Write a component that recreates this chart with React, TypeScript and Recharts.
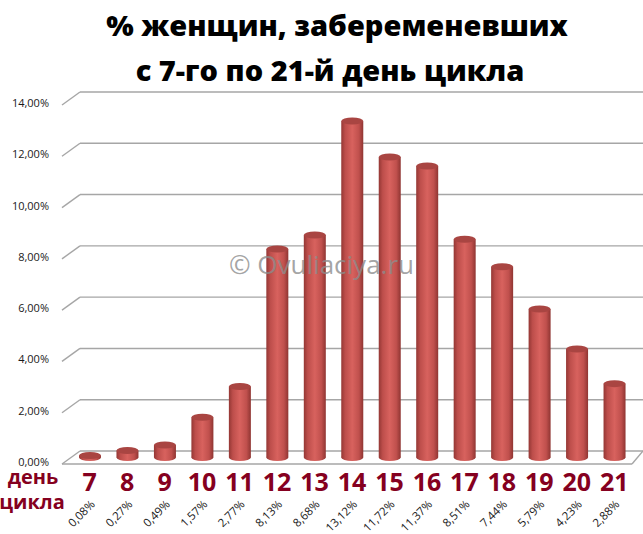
import { BarChart, Bar, XAxis, YAxis, CartesianGrid } from 'recharts';

const days = [7, 8, 9, 10, 11, 12, 13, 14, 15, 16, 17, 18, 19, 20, 21];
const percents = [0.08, 0.27, 0.49, 1.57, 2.77, 8.13, 8.68, 13.12, 11.72, 11.37, 8.51, 7.44, 5.79, 4.23, 2.88];
const yTicks = [0, 2, 4, 6, 8, 10, 12, 14];

const data = days.map((day, i) => ({ day, value: percents[i] }));

const fmt = (v: number) => v.toFixed(2).replace('.', ',') + '%';

const RISE = 13;
const SHIFT = 6.5;
const MAROON = '#850020';

function GridLine(props: any) {
  const { x1, x2, y1 } = props;
  const isFloor = Math.abs(y1 - 451) < 1;
  return (
    <g stroke="#a6a6a6" strokeWidth={1.4} fill="none">
      <line x1={x1 + 9} x2={x2 + 10} y1={y1} y2={y1} />
      <line x1={x1 - 9} y1={y1 + RISE} x2={x1 + 9} y2={y1} />
      {isFloor && (
        <>
          <line x1={x1 - 9} x2={x2 - 1} y1={y1 + RISE} y2={y1 + RISE} />
          <line x1={x2 - 1} y1={y1 + RISE} x2={x2 + 10} y2={y1} />
        </>
      )}
    </g>
  );
}

function Cylinder(props: any) {
  const { x, y, width, height } = props;
  const top = y + SHIFT;
  const bottom = y + height + SHIFT;
  const cx = x + width / 2;
  const rx = width / 2;
  const ry = 3.5;
  return (
    <g>
      <ellipse cx={cx} cy={bottom} rx={rx} ry={ry} fill="url(#cyl)" />
      <rect x={x} y={top} width={width} height={Math.max(bottom - top, 0)} fill="url(#cyl)" />
      <ellipse cx={cx} cy={top} rx={rx} ry={ry} fill="#a94542" />
    </g>
  );
}

function DayTick(props: any) {
  const { x, y, payload, index } = props;
  return (
    <g>
      <text
        x={x}
        y={y + 32}
        textAnchor="middle"
        fill={MAROON}
        fontFamily="'Open Sans', sans-serif"
        fontWeight={700}
        fontSize={25}
      >
        {payload.value}
      </text>
      <text
        x={x + 6}
        y={y + 46}
        textAnchor="end"
        fill="#1a1a1a"
        fontFamily="'Open Sans', sans-serif"
        fontSize={11.5}
        transform={`rotate(-45 ${x + 6} ${y + 46})`}
      >
        {fmt(percents[index])}
      </text>
    </g>
  );
}

function PctTick(props: any) {
  const { y, payload } = props;
  return (
    <text
      x={49}
      y={y + RISE + 2}
      textAnchor="end"
      fill="#1a1a1a"
      fontFamily="'Open Sans', sans-serif"
      fontSize={11}
    >
      {fmt(payload.value)}
    </text>
  );
}

export default function App() {
  return (
    <div style={{ width: 643, height: 534, position: 'relative', background: '#fff' }}>
      <style>{'body{margin:0}'}</style>
      <BarChart
        width={643}
        height={534}
        data={data}
        margin={{ top: 92, right: 10, bottom: 0, left: 8 }}
      >
        <defs>
          <linearGradient id="cyl" x1="0" y1="0" x2="1" y2="0">
            <stop offset="0" stopColor="#943734" />
            <stop offset="0.18" stopColor="#bd4e4b" />
            <stop offset="0.5" stopColor="#d8625e" />
            <stop offset="0.8" stopColor="#c0504d" />
            <stop offset="1" stopColor="#8f3532" />
          </linearGradient>
        </defs>
        <text
          x={337}
          y={36}
          textAnchor="middle"
          fontFamily="'Open Sans', sans-serif"
          fontWeight={800}
          fontSize={29}
          fill="#000"
        >
          % женщин, забеременевших
        </text>
        <text
          x={330}
          y={81}
          textAnchor="middle"
          fontFamily="'Open Sans', sans-serif"
          fontWeight={800}
          fontSize={29}
          fill="#000"
        >
          с 7-го по 21-й день цикла
        </text>
        <CartesianGrid vertical={false} horizontal={(p: any) => <GridLine key={p.key} {...p} />} />
        <XAxis
          dataKey="day"
          height={83}
          axisLine={false}
          tickLine={false}
          interval={0}
          tick={<DayTick />}
        />
        <YAxis
          width={63}
          domain={[0, 14]}
          ticks={yTicks}
          axisLine={false}
          tickLine={false}
          tick={<PctTick />}
        />
        <Bar dataKey="value" barSize={22} shape={<Cylinder />} isAnimationActive={false} />
        <text
          x={33}
          y={484}
          textAnchor="middle"
          fill={MAROON}
          fontFamily="'Open Sans', sans-serif"
          fontWeight={700}
          fontSize={20}
        >
          день
        </text>
        <text
          x={32}
          y={509}
          textAnchor="middle"
          fill={MAROON}
          fontFamily="'Open Sans', sans-serif"
          fontWeight={700}
          fontSize={20}
        >
          цикла
        </text>
      </BarChart>
      {/* watermark sits above the bars */}
      <div
        style={{
          position: 'absolute',
          left: 0,
          width: 643,
          top: 246,
          textAlign: 'center',
          fontFamily: "'Open Sans', sans-serif",
          fontSize: 26,
          lineHeight: '36px',
          color: 'rgba(140,140,140,0.8)',
          pointerEvents: 'none',
        }}
      >
        © Ovuliaciya.ru
      </div>
    </div>
  );
}
